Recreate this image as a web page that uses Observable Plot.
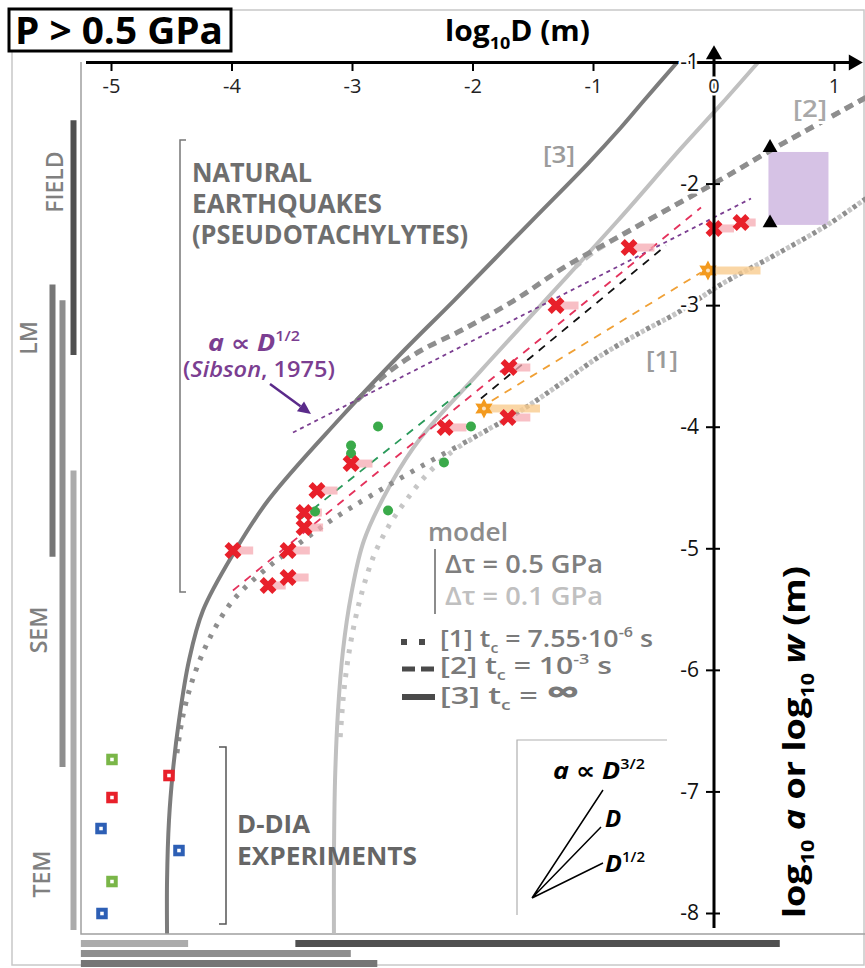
<!DOCTYPE html>
<html>
<head>
<meta charset="utf-8">
<script src="https://cdn.jsdelivr.net/npm/d3@7"></script>
<script src="https://cdn.jsdelivr.net/npm/@observablehq/plot@0.6"></script>
<style>
  html,body{margin:0;padding:0;background:#fff;}
  #chart svg{display:block;}
</style>
</head>
<body>
<div id="chart"></div>
<script>
const FONT = '"Open Sans", "DejaVu Sans", sans-serif';

// ---------- axis ticks ----------
const xTicks = [-5, -4, -3, -2, -1, 0, 1];
const yTicks = [-1, -2, -3, -4, -5, -6, -7, -8];

// ---------- model curves [log10 D, log10 w] ----------
const model3_dt05 = [[-0.307,-1.0],[-0.581,-1.313],[-0.772,-1.535],[-1.046,-1.831],[-1.510,-2.300],[-2.158,-2.958],[-2.573,-3.369],[-3.120,-3.945],[-3.701,-4.603],[-3.983,-5.031],[-4.241,-5.508],[-4.357,-5.919],[-4.440,-6.413],[-4.490,-6.824],[-4.523,-7.235],[-4.539,-7.729],[-4.539,-8.165]];
const model3_dt01 = [[0.365,-1.0],[0.058,-1.345],[-0.274,-1.707],[-0.797,-2.300],[-1.402,-2.958],[-1.934,-3.534],[-2.432,-4.085],[-2.680,-4.463],[-2.905,-4.932],[-3.012,-5.384],[-3.079,-5.837],[-3.120,-6.330],[-3.145,-6.906],[-3.154,-7.564],[-3.154,-8.165]];
const model2_dt05 = [[1.261,-1.288],[0.498,-1.707],[0.058,-1.962],[-0.714,-2.390],[-1.245,-2.686],[-1.660,-2.958],[-2.100,-3.205],[-2.432,-3.369],[-2.705,-3.550],[-2.963,-3.780]];
const model2_dt01 = [[1.261,-1.288],[0.498,-1.707],[0.058,-1.962],[-0.714,-2.390],[-1.000,-2.560],[-1.150,-2.680]];
const model1_dt05 = [[1.261,-2.119],[0.946,-2.333],[0.498,-2.588],[0.058,-2.826],[-0.299,-3.056],[-0.581,-3.205],[-0.938,-3.410],[-1.270,-3.640],[-1.602,-3.863],[-1.934,-4.052],[-2.373,-4.290],[-2.846,-4.562],[-3.154,-4.751],[-3.444,-4.957],[-3.734,-5.179],[-3.992,-5.425],[-4.174,-5.713],[-4.315,-6.042],[-4.407,-6.371],[-4.465,-6.742]];
const model1_dt01 = [[1.261,-2.119],[0.946,-2.333],[0.498,-2.588],[0.058,-2.826],[-0.299,-3.056],[-0.581,-3.205],[-0.938,-3.410],[-1.270,-3.640],[-1.602,-3.863],[-1.934,-4.052],[-2.183,-4.208],[-2.390,-4.397],[-2.556,-4.603],[-2.697,-4.809],[-2.822,-5.055],[-2.929,-5.384],[-3.012,-5.754],[-3.071,-6.166],[-3.104,-6.577]];

// ---------- fitted trends ----------
const fitSibson = [[-3.494,-4.044],[0.307,-2.119]];
const fitRed    = [[-3.992,-5.343],[-0.108,-2.193]];
const fitBlack  = [[-1.934,-3.764],[-0.398,-2.505]];
const fitGreen  = [[-3.427,-4.751],[-2.017,-3.640]];
const fitOrange = [[-1.950,-3.846],[-0.108,-2.727]];

// ---------- natural pseudotachylytes ----------
const redLogD  = [0.224, 0.0, -0.705, -1.311, -1.701, -1.710, -2.232, -3.012, -3.295, -3.402, -3.402, -3.535, -3.992, -3.535, -3.701];
const redLogW  = [-2.316, -2.365, -2.522, -2.999, -3.509, -3.920, -4.002, -4.299, -4.521, -4.702, -4.825, -5.014, -5.014, -5.236, -5.302];
const redLogDHi= [0.35, 0.17, -0.49, -1.12, -1.52, -1.52, -2.05, -2.83, -3.12, -3.25, -3.24, -3.35, -3.82, -3.36, -3.55];
const orangeLogD   = [-0.050, -1.909];
const orangeLogW   = [-2.711, -3.846];
const orangeLogDHi = [0.39, -1.44];
const greenLogD = [-2.788, -3.012, -3.012, -2.017, -2.241, -2.705, -3.311];
const greenLogW = [-3.994, -4.150, -4.216, -3.994, -4.290, -4.685, -4.693];

// ---------- D-DIA experiments ----------
const ddiaLogD  = [-4.996, -4.523, -4.996, -5.087, -4.440, -4.996, -5.079];
const ddiaLogW  = [-6.733, -6.865, -7.046, -7.301, -7.482, -7.737, -8.000];
const ddiaGroup = ["green", "red", "red", "blue", "blue", "green", "blue"];

// ---------- field range (top right) ----------
const fieldTriLogD = [0.465, 0.465];
const fieldTriLogW = [-1.70, -2.32];
const fieldBoxLogD = [0.456, 0.954];
const fieldBoxLogW = [-1.74, -2.34];

// ---------- observation technique ranges ----------
const techNames = ["FIELD", "LM", "SEM", "TEM"];
const techLogW  = [[-1.48,-3.41],[-2.83,-5.07],[-2.96,-6.80],[-4.36,-8.14]];
const techLogD  = [[-3.47,0.55],[-5.25,-2.79],[-5.25,-3.01],[-5.25,-4.36]];

// ---------- layout / styling (pixels) ----------
const techColor = ["#505050", "#767676", "#8e8e8e", "#ababab"];
const techVBarPx = [73, 52, 62, 73];
const techHBarPx = [943, 963, 953, 943];
const xOf = p => -5 + (p - 111) / 120.5;          // pixel -> log D (layout only)
const yOf = p => -1 - (p - 62) / (851 / 7);       // pixel -> log w (layout only)
const groupColor = {green: "#7ab648", red: "#e8202a", blue: "#2d5fb5"};

const pts = a => a.map(([x, y]) => ({x, y}));
const red = redLogD.map((x, i) => ({x, y: redLogW[i], hi: redLogDHi[i]}));
const orange = orangeLogD.map((x, i) => ({x, y: orangeLogW[i], hi: orangeLogDHi[i]}));
const green = greenLogD.map((x, i) => ({x, y: greenLogW[i]}));
const ddia = ddiaLogD.map((x, i) => ({x, y: ddiaLogW[i], c: groupColor[ddiaGroup[i]]}));
const tri = fieldTriLogD.map((x, i) => ({x, y: fieldTriLogW[i]}));
const tech = techNames.map((n, i) => ({n, w: techLogW[i], d: techLogD[i], c: techColor[i], vx: xOf(techVBarPx[i]), hy: yOf(techHBarPx[i])}));

const thickX = {
  draw(ctx, size) {
    const r = Math.sqrt(size / Math.PI), t = r * 0.33, c = Math.SQRT1_2;
    const p = [[t,-t],[t,-r],[-t,-r],[-t,-t],[-r,-t],[-r,t],[-t,t],[-t,r],[t,r],[t,t],[r,t],[r,-t]];
    p.forEach(([x, y], i) => { const u = (x - y) * c, v = (x + y) * c; i ? ctx.lineTo(u, v) : ctx.moveTo(u, v); });
    ctx.closePath();
  }
};
const star6 = {
  draw(ctx, size) {
    const r = Math.sqrt(size / Math.PI), ri = r * 0.55;
    for (let i = 0; i < 12; i++) {
      const a = Math.PI / 6 * i - Math.PI / 2, rr = i % 2 ? ri : r;
      const x = rr * Math.cos(a), y = rr * Math.sin(a);
      i ? ctx.lineTo(x, y) : ctx.moveTo(x, y);
    }
    ctx.closePath();
  }
};

const XY = {x: "x", y: "y"};
const line = (data, o) => Plot.line(pts(data), {...XY, strokeLinecap: "butt", curve: "catmull-rom", ...o});

const chart = Plot.plot({
  width: 865, height: 968,
  marginTop: 0, marginRight: 0, marginBottom: 0, marginLeft: 0,
  x: {domain: [-5, 1], range: [111, 834], axis: null},
  y: {domain: [-1, -8], range: [62, 913], axis: null},
  color: {type: "identity"},
  style: {background: "white", fontFamily: FONT, overflow: "visible"},
  marks: [
    // technique bars
    Plot.ruleX(tech, {x: "vx", y1: d => d.w[0], y2: d => d.w[1], stroke: "c", strokeWidth: 6}),
    Plot.ruleY(tech, {y: "hy", x1: d => d.d[0], x2: d => d.d[1], stroke: "c", strokeWidth: 7}),
    // field box
    Plot.rect([0], {x1: fieldBoxLogD[0], x2: fieldBoxLogD[1], y1: fieldBoxLogW[0], y2: fieldBoxLogW[1], fill: "#d2bbe2", fillOpacity: 0.9}),
    // model curves (light, then dark)
    line(model2_dt01, {stroke: "#c4c4c4", strokeWidth: 5, strokeDasharray: "9,6"}),
    line(model3_dt01, {stroke: "#c0c0c0", strokeWidth: 4}),
    line(model1_dt01, {stroke: "#c6c6c6", strokeWidth: 5, strokeDasharray: "4,8", strokeDashoffset: 6}),
    line(model1_dt05, {stroke: "#8e8e8e", strokeWidth: 5, strokeDasharray: "4,8"}),
    line(model2_dt05, {stroke: "#8e8e8e", strokeWidth: 5, strokeDasharray: "9,6"}),
    line(model3_dt05, {stroke: "#7c7c7c", strokeWidth: 4}),
    // trends
    line(fitSibson, {stroke: "#7b3e91", strokeWidth: 1.8, strokeDasharray: "4,4", curve: "linear"}),
    line(fitGreen, {stroke: "#2a9a5a", strokeWidth: 1.8, strokeDasharray: "8,7", curve: "linear"}),
    line(fitRed, {stroke: "#e4325c", strokeWidth: 1.8, strokeDasharray: "8,7", curve: "linear"}),
    line(fitBlack, {stroke: "#111", strokeWidth: 1.8, strokeDasharray: "8,7", curve: "linear"}),
    line(fitOrange, {stroke: "#f0a035", strokeWidth: 1.8, strokeDasharray: "8,7", curve: "linear"}),
    // ranges
    Plot.ruleY(red, {y: "y", x1: "x", x2: "hi", stroke: "#f5a9b2", strokeWidth: 8, strokeOpacity: 0.75}),
    Plot.ruleY(orange, {y: "y", x1: "x", x2: "hi", stroke: "#f9cc8f", strokeWidth: 8, strokeOpacity: 0.8}),
    // markers
    Plot.dot(green, {...XY, r: 5, fill: "#3aaa4a"}),
    Plot.dot(red, {...XY, symbol: thickX, r: 9, fill: "#e8202a"}),
    Plot.dot(orange, {...XY, symbol: star6, r: 10, fill: "#f39a1e"}),
    Plot.dot(orange, {...XY, r: 2, fill: "#fde2bd"}),
    Plot.dot(ddia, {...XY, symbol: "square", r: 6.5, fill: "c"}),
    Plot.dot(ddia, {...XY, symbol: "square", r: 2, fill: "white"}),
    Plot.dot(tri, {...XY, symbol: "triangle", r: 5.5, fill: "#000"}),
    // axes
    Plot.ruleY([-1], {x1: xOf(86), x2: xOf(850), stroke: "#000", strokeWidth: 3}),
    Plot.ruleX([0], {y1: yOf(928), y2: yOf(56), stroke: "#000", strokeWidth: 3}),
    Plot.dot([0], {x: xOf(853), y: -1, symbol: "triangle", rotate: 90, r: 6, fill: "#000"}),
    Plot.dot([0], {x: 0, y: yOf(54), symbol: "triangle", r: 6, fill: "#000"}),
    Plot.ruleX(xTicks, {x: d => d, y1: -1, y2: yOf(71), stroke: "#000", strokeWidth: 2}),
    Plot.ruleY(yTicks.slice(1), {y: d => d, x1: xOf(706), x2: xOf(720), stroke: "#000", strokeWidth: 2}),
    Plot.text(xTicks, {x: d => d, y: -1, dy: 24, text: d => String(d), fontSize: 20, fill: "#222", stroke: "white", strokeWidth: 5}),
    Plot.text(yTicks, {x: 0, y: d => d, dx: -15, textAnchor: "end", text: d => String(d), fontSize: 21, fill: "#111", stroke: "white", strokeWidth: 5})
  ]
});

document.getElementById("chart").appendChild(chart);
const svg = d3.select(chart);

// -------- annotations (layout in pixels) --------
const deco = svg.insert("g", ":first-child");
deco.append("rect").attr("x", 12).attr("y", 10).attr("width", 852).attr("height", 955).attr("fill", "none").attr("stroke", "#c8c8c8").attr("stroke-width", 1.5);
deco.append("path").attr("d", "M81,62V934H865").attr("fill", "none").attr("stroke", "#a0a0a0").attr("stroke-width", 1.5);

function rich(g, o) {
  const {x, y, parts, size, weight = 600, fill = "#000", anchor = "start", rotate = 0, len = null, halo = false} = o;
  const t = g.append("text").attr("x", x).attr("y", y).attr("font-size", size).attr("font-weight", weight)
    .attr("fill", fill).attr("text-anchor", anchor).attr("font-family", FONT);
  if (rotate) t.attr("transform", `rotate(${rotate} ${x} ${y})`);
  if (len) t.attr("textLength", len).attr("lengthAdjust", "spacingAndGlyphs");
  if (halo) t.attr("stroke", "white").attr("stroke-width", 6).attr("paint-order", "stroke").attr("stroke-linejoin", "round");
  let shift = 0;
  for (const p of parts) {
    const q = typeof p === "string" ? {t: p} : p;
    const target = q.sub ? size * 0.28 : q.sup ? -size * 0.42 : 0;
    const ts = t.append("tspan").text(q.t);
    if (target !== shift) ts.attr("dy", target - shift);
    shift = target;
    if (q.sub || q.sup) ts.attr("font-size", size * 0.6);
    if (q.i) ts.attr("font-style", "italic");
    if (q.w) ts.attr("font-weight", q.w);
    if (q.s) ts.attr("font-size", q.s);
  }
  return t;
}
const ann = svg.append("g");

// title box
ann.append("rect").attr("x", 9).attr("y", 9).attr("width", 222).attr("height", 42).attr("fill", "white").attr("stroke", "#000").attr("stroke-width", 3);
rich(ann, {x: 15, y: 44, size: 37, weight: 700, parts: ["P > 0.5 GPa"], len: 208});
rich(ann, {x: 445, y: 41, size: 28, weight: 700, parts: ["log", {t: "10", sub: 1}, "D (m)"], len: 145});

// y axis title
rich(ann, {x: 805, y: 742, size: 31, weight: 700, anchor: "middle", rotate: -90, len: 352,
  parts: ["log", {t: "10", sub: 1}, " ", {t: "a", i: 1}, " or ", "log", {t: "10", sub: 1}, " ", {t: "w", i: 1}, " (m)"]});

// natural earthquakes
const gray1 = "#6e6e6e";
rich(ann, {x: 192, y: 182, size: 27, weight: 700, fill: gray1, parts: ["NATURAL"], len: 120});
rich(ann, {x: 192, y: 213, size: 27, weight: 700, fill: gray1, parts: ["EARTHQUAKES"], len: 190});
rich(ann, {x: 192, y: 244, size: 27, weight: 700, fill: gray1, parts: ["(PSEUDOTACHYLYTES)"], len: 276});
ann.append("path").attr("d", "M186,140H180V592H186").attr("fill", "none").attr("stroke", "#777").attr("stroke-width", 1.5);

// Sibson
const purple = "#7b3e91";
rich(ann, {x: 208, y: 351, size: 23, weight: 700, fill: purple, len: 92,
  parts: [{t: "a", i: 1}, " \u221D ", {t: "D", i: 1}, {t: "1/2", sup: 1, w: 600}]});
rich(ann, {x: 183, y: 377, size: 22, weight: 600, fill: purple, len: 152, parts: ["(", {t: "Sibson", i: 1}, ", 1975)"]});
{
  const x0 = 270, y0 = 384, x1 = 311, y1 = 414;
  const L = Math.hypot(x1 - x0, y1 - y0), ux = (x1 - x0) / L, uy = (y1 - y0) / L, nx = -uy, ny = ux;
  const bx = x1 - 13 * ux, by = y1 - 13 * uy;
  ann.append("line").attr("x1", x0).attr("y1", y0).attr("x2", bx).attr("y2", by).attr("stroke", "#5a2a8a").attr("stroke-width", 2.5);
  ann.append("path").attr("d", `M${x1},${y1}L${bx + 6 * nx},${by + 6 * ny}L${bx - 6 * nx},${by - 6 * ny}Z`).attr("fill", "#5a2a8a");
}

// curve labels
rich(ann, {x: 543, y: 163, size: 24, weight: 600, fill: "#9b9b9b", parts: ["[3]"], len: 32});
rich(ann, {x: 793, y: 117, size: 24, weight: 600, fill: "#a8a8a8", parts: ["[2]"], len: 34, halo: true});
rich(ann, {x: 646, y: 368, size: 24, weight: 600, fill: "#9b9b9b", parts: ["[1]"], len: 32});

// model legend
rich(ann, {x: 428, y: 541, size: 25, weight: 600, fill: "#8c8c8c", parts: ["model"], len: 80});
ann.append("line").attr("x1", 435).attr("x2", 435).attr("y1", 549).attr("y2", 614).attr("stroke", "#8c8c8c").attr("stroke-width", 2);
rich(ann, {x: 445, y: 573, size: 25, weight: 600, fill: "#7f7f7f", parts: ["\u0394\u03C4 = 0.5 GPa"], len: 158});
rich(ann, {x: 445, y: 605, size: 25, weight: 600, fill: "#c0c0c0", parts: ["\u0394\u03C4 = 0.1 GPa"], len: 158});
const lg = "#4a4a4a";
ann.append("rect").attr("x", 401).attr("y", 639).attr("width", 6).attr("height", 6).attr("fill", lg);
ann.append("rect").attr("x", 419).attr("y", 639).attr("width", 6).attr("height", 6).attr("fill", lg);
ann.append("path").attr("d", "M402,669H415M421,669H434").attr("stroke", lg).attr("stroke-width", 5);
ann.append("path").attr("d", "M402,697H435").attr("stroke", lg).attr("stroke-width", 6);
const lgt = "#7a7a7a";
rich(ann, {x: 440, y: 647, size: 23, weight: 600, fill: lgt, len: 213,
  parts: ["[1] t", {t: "c", sub: 1}, " = 7.55\u00B710", {t: "-6", sup: 1}, " s"]});
rich(ann, {x: 440, y: 674, size: 23, weight: 600, fill: lgt, len: 172,
  parts: ["[2] t", {t: "c", sub: 1}, " = 10", {t: "-3", sup: 1}, " s"]});
rich(ann, {x: 440, y: 704, size: 23, weight: 600, fill: lgt, len: 140,
  parts: ["[3] t", {t: "c", sub: 1}, " = ", {t: "\u221E", s: 34, w: 700}]});

// D-DIA
rich(ann, {x: 237, y: 833, size: 25, weight: 700, fill: "#666", parts: ["D-DIA"], len: 73});
rich(ann, {x: 237, y: 865, size: 25, weight: 700, fill: "#666", parts: ["EXPERIMENTS"], len: 180});
ann.append("path").attr("d", "M219,747H226V924H219").attr("fill", "none").attr("stroke", "#555").attr("stroke-width", 1.5);

// inset with slopes
ann.append("path").attr("d", "M667,740H517V915").attr("fill", "none").attr("stroke", "#b0b0b0").attr("stroke-width", 1.2);
ann.append("path").attr("d", "M532,898L603,790M532,898L601,827M532,898L603,863").attr("fill", "none").attr("stroke", "#000").attr("stroke-width", 1.5);
rich(ann, {x: 553, y: 779, size: 24, weight: 700, len: 92, parts: [{t: "a", i: 1}, " \u221D ", {t: "D", i: 1}, {t: "3/2", sup: 1, w: 600}]});
rich(ann, {x: 605, y: 827, size: 24, weight: 700, parts: [{t: "D", i: 1}]});
rich(ann, {x: 605, y: 872, size: 24, weight: 700, len: 40, parts: [{t: "D", i: 1}, {t: "1/2", sup: 1, w: 600}]});

// technique labels
const techLabelPx = [[63, 182], [37, 338], [47, 630], [50, 874]];
techNames.forEach((n, i) => rich(ann, {x: techLabelPx[i][0], y: techLabelPx[i][1], size: 23, weight: 600, fill: "#808080", anchor: "middle", rotate: -90, parts: [n]}));
</script>
</body>
</html>
